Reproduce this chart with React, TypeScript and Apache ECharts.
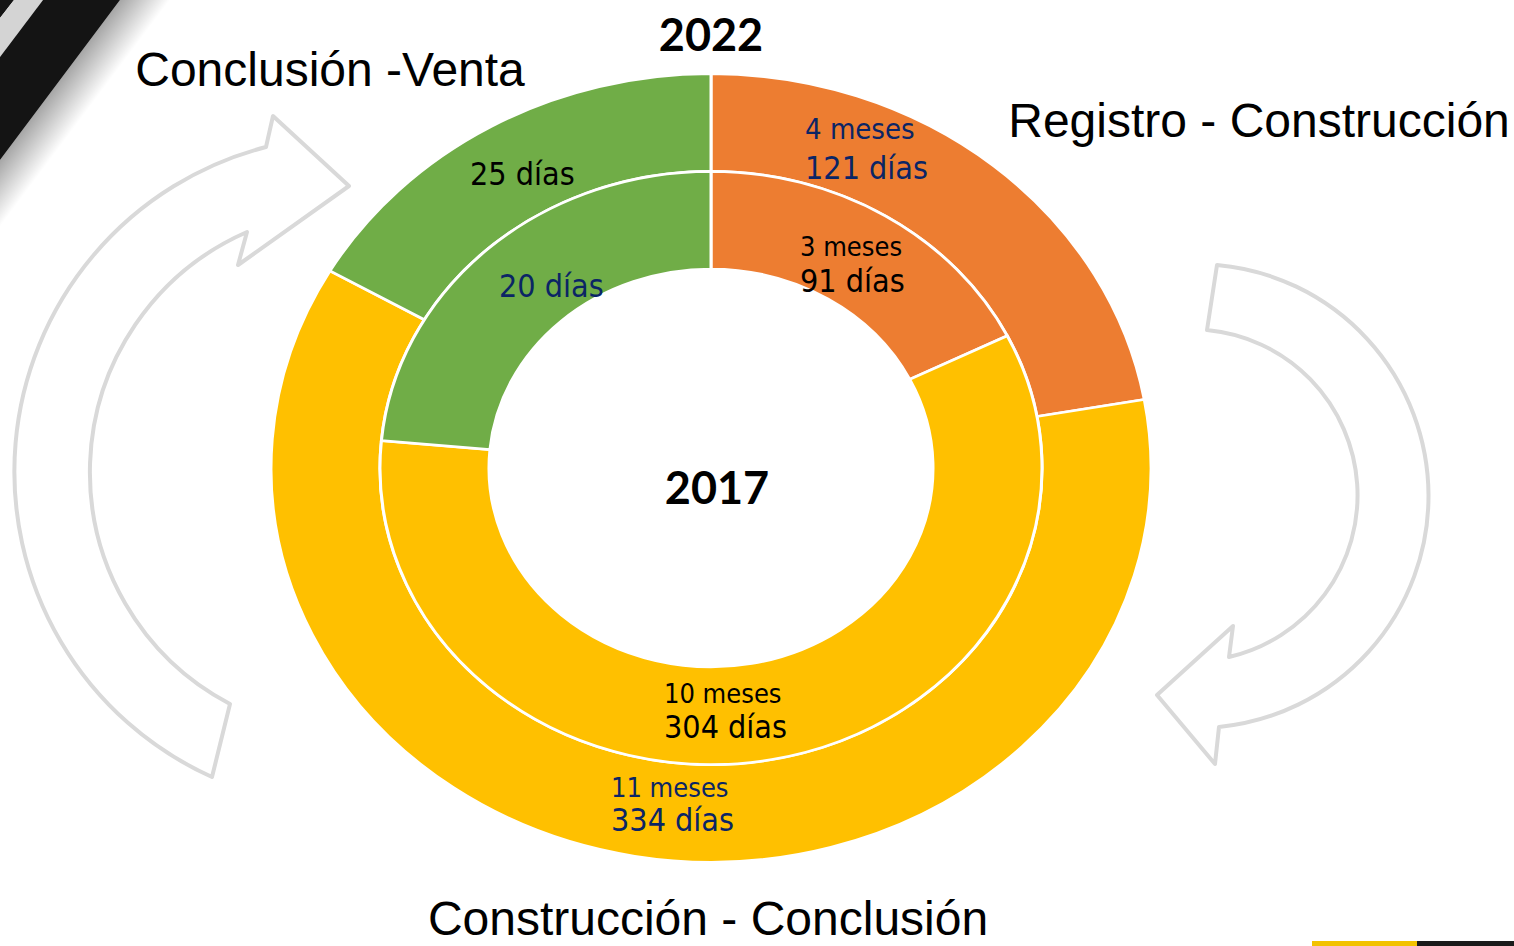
import React, { useEffect, useRef } from "react";
import * as echarts from "echarts";

// ---- data ----
const stageNames = ["Registro - Construcción", "Construcción - Conclusión", "Conclusión -Venta"];
const months2022 = [4, 11, 3];
const months2017 = [3, 10, 4];
const labels2022 = [["4 meses", "121 días"], ["11 meses", "334 días"], ["25 días"]];
const labels2017 = [["3 meses", "91 días"], ["10 meses", "304 días"], ["20 días"]];
const yearOuter = "2022";
const yearInner = "2017";

// ---- styles / layout ----
const sliceColors = ["#ED7D31", "#FFC000", "#70AD47"];
const BLUE = "#0B2565";
const BLACK = "#000000";
const labelColors2022 = [BLUE, BLUE, BLACK];
const labelColors2017 = [BLACK, BLACK, BLUE];
const CX = 711;
const CY = 468;
const SY = 0.896;
const R_HOLE = 222;
const R_MID = 331;
const R_OUT = 440;
// anchor (left x, first-line middle y, line gap, months font size) for each slice label
const pos2022 = [[805, 129, 39, 29], [611, 787, 33, 27], [470, 174, 0, 27]];
const pos2017 = [[800, 246, 35, 27], [664, 693, 34, 27], [499, 286, 0, 27]];
const DAYS_SIZE = 32;

const LABEL_FONT = '"DejaVu Sans Condensed", "DejaVu Sans", sans-serif';

const leftArrowD =
  "M 349 186 L 273 116 L 266 147 A 335 335 0 0 0 212 777 L 230 704 A 262 262 0 0 1 247 232 L 238 265 Z";
const rightArrowD =
  "M 1217 265 L 1207 330 A 166 166 0 0 1 1229 657 L 1233 626 L 1157 695 L 1215 764 L 1219 727 A 232 232 0 0 0 1217 265 Z";

echarts.graphic.registerShape("leftArrow", echarts.graphic.extendPath(leftArrowD, {}));
echarts.graphic.registerShape("rightArrow", echarts.graphic.extendPath(rightArrowD, {}));

function ringSeries(name: string, values: number[], r0: number, r: number) {
  const total = values.reduce((a, b) => a + b, 0);
  return {
    type: "custom",
    name,
    coordinateSystem: "none",
    data: values.map((v, i) => ({ name: stageNames[i], value: [v] })),
    renderItem: (params: any, api: any) => {
      const idx = params.dataIndex;
      let before = 0;
      for (let i = 0; i < idx; i++) before += values[i];
      const v = api.value(0);
      const start = -Math.PI / 2 + (before / total) * Math.PI * 2;
      const end = start + (v / total) * Math.PI * 2;
      return {
        type: "group",
        x: CX,
        y: CY,
        scaleY: SY,
        children: [
          {
            type: "sector",
            shape: { cx: 0, cy: 0, r0, r, startAngle: start, endAngle: end, clockwise: true },
            style: { fill: sliceColors[idx], stroke: "#ffffff", lineWidth: 3 },
          },
        ],
      };
    },
  };
}

function labelTexts(labels: string[][], pos: number[][], colors: string[]) {
  const out: any[] = [];
  labels.forEach((lines, i) => {
    const [x, y, gap, mSize] = pos[i];
    lines.forEach((t, j) => {
      const isDays = t.indexOf("días") >= 0;
      out.push({
        type: "text",
        x,
        y: y + j * gap,
        z: 20,
        style: {
          text: t,
          fill: colors[i],
          fontSize: isDays ? DAYS_SIZE : mSize,
          fontFamily: LABEL_FONT,
          align: "left",
          verticalAlign: "middle",
        },
      });
    });
  });
  return out;
}

export default function App() {
  const ref = useRef<HTMLDivElement>(null);
  useEffect(() => {
    document.body.style.margin = "0";
    const chart = echarts.init(ref.current!, undefined, { renderer: "svg" });
    const titleFont = '"Liberation Sans", Arial, sans-serif';
    chart.setOption({
      animation: false,
      backgroundColor: "#ffffff",
      series: [
        ringSeries(yearOuter, months2022, R_MID, R_OUT),
        ringSeries(yearInner, months2017, R_HOLE, R_MID),
      ],
      graphic: [
        // decorative corner stripes
        { type: "polygon", z: 1, shape: { points: [[0, 0], [14, 0], [0, 18]] }, style: { fill: "#151515" } },
        { type: "polygon", z: 1, shape: { points: [[14, 0], [43, 0], [0, 57], [0, 18]] }, style: { fill: "#d4d4d4" } },
        { type: "polygon", z: 1, shape: { points: [[43, 0], [120, 0], [0, 160], [0, 57]] }, style: { fill: "#141414" } },
        {
          type: "polygon",
          z: 1,
          shape: { points: [[120, 0], [172, 0], [0, 230], [0, 160]] },
          style: {
            fill: {
              type: "linear",
              x: 60,
              y: 80,
              x2: 92,
              y2: 104,
              global: true,
              colorStops: [
                { offset: 0, color: "rgba(0,0,0,0.35)" },
                { offset: 1, color: "rgba(0,0,0,0)" },
              ],
            },
          },
        },
        { type: "rect", z: 1, shape: { x: 1312, y: 941, width: 105, height: 5 }, style: { fill: "#F2C200" } },
        { type: "rect", z: 1, shape: { x: 1417, y: 941, width: 97, height: 5 }, style: { fill: "#1a1a1a" } },
        // cycle arrows
        { type: "leftArrow", x: 0, y: 0, z: 2, style: { fill: "none", stroke: "#D9D9D9", lineWidth: 4, lineJoin: "round" } },
        { type: "rightArrow", x: 0, y: 0, z: 2, style: { fill: "none", stroke: "#D9D9D9", lineWidth: 4, lineJoin: "round" } },
        // stage titles
        {
          type: "text", x: 330, y: 69, z: 20,
          style: { text: stageNames[2], fill: "#000", fontSize: 48, fontFamily: titleFont, align: "center", verticalAlign: "middle" },
        },
        {
          type: "text", x: 1259, y: 120, z: 20,
          style: { text: stageNames[0], fill: "#000", fontSize: 48, fontFamily: titleFont, align: "center", verticalAlign: "middle" },
        },
        {
          type: "text", x: 708, y: 918, z: 20,
          style: { text: stageNames[1], fill: "#000", fontSize: 48, fontFamily: titleFont, align: "center", verticalAlign: "middle" },
        },
        // year titles
        {
          type: "text", x: 711, y: 34, z: 20,
          style: { text: yearOuter, fill: "#000", fontSize: 45, fontWeight: "bold", fontFamily: "Lato, sans-serif", align: "center", verticalAlign: "middle" },
        },
        {
          type: "text", x: 717, y: 487, z: 20,
          style: { text: yearInner, fill: "#000", fontSize: 45, fontWeight: "bold", fontFamily: "Lato, sans-serif", align: "center", verticalAlign: "middle" },
        },
        ...labelTexts(labels2022, pos2022, labelColors2022),
        ...labelTexts(labels2017, pos2017, labelColors2017),
      ],
    });
    return () => chart.dispose();
  }, []);
  return <div ref={ref} style={{ width: 1514, height: 946, background: "#fff" }} />;
}
